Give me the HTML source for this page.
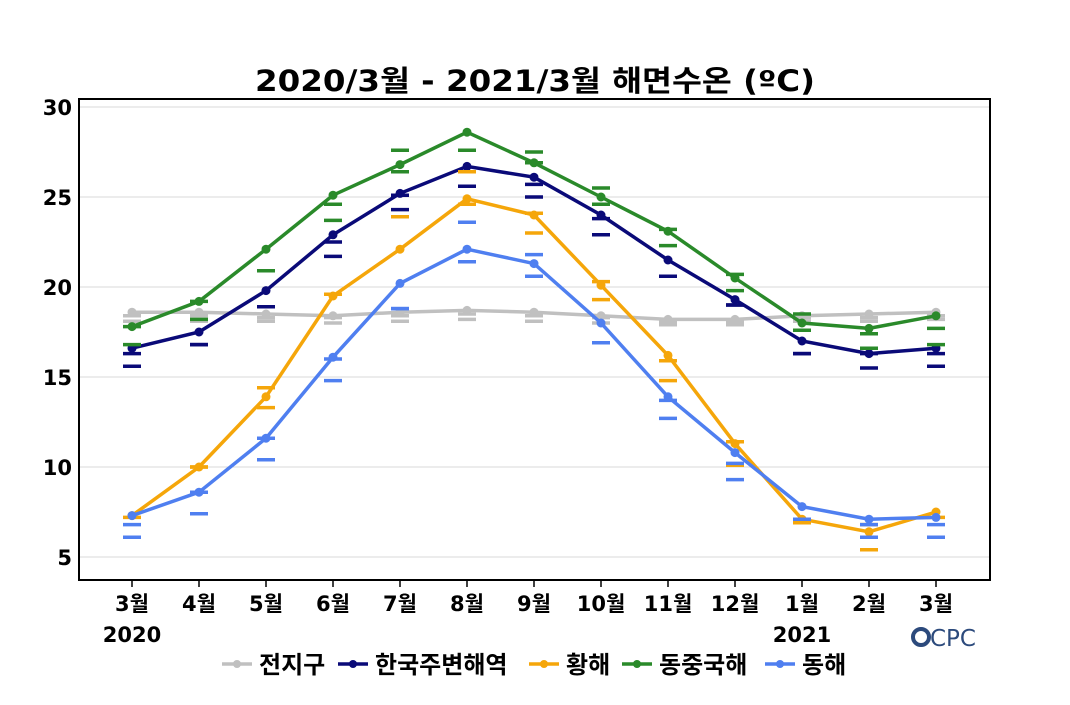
<!DOCTYPE html>
<html><head><meta charset="utf-8"><style>
body{margin:0;background:#fff;}
svg text{font-family:"DejaVu Sans","Noto Sans CJK KR",sans-serif;}
</style></head><body>
<svg id="chart" width="1070" height="700" xmlns="http://www.w3.org/2000/svg">
<rect width="1070" height="700" fill="#fff"/>
<text x="255" y="91" textLength="560" lengthAdjust="spacingAndGlyphs" font-size="29" font-weight="bold" fill="#000">2020/3월 - 2021/3월 해면수온 (ºC)</text>
<g id="grid"></g>
<g id="marks"></g>
<rect x="79" y="99" width="911" height="481" fill="none" stroke="#000" stroke-width="2"/>
<g id="axes"></g>
<text x="132" y="642" text-anchor="middle" font-size="21" font-weight="bold">2020</text>
<text x="802" y="642" text-anchor="middle" font-size="21" font-weight="bold">2021</text>
<g>
<circle cx="921" cy="637" r="8" fill="none" stroke="#2c4a7c" stroke-width="4"/>
<text x="930" y="646" font-size="23" fill="#2c4a7c">CPC</text>
</g>
<g id="legend"></g>
</svg>
<script>
const months=["3월","4월","5월","6월","7월","8월","9월","10월","11월","12월","1월","2월","3월"];
const yTicks=[5,10,15,20,25,30];
const seriesNames=["전지구","한국주변해역","황해","동중국해","동해"];
const seriesColors=["#c0c0c0","#0a0a78","#f5a60a","#2a8a2a","#4f7ff0"];
const globalVals=[18.6,18.6,18.5,18.4,18.6,18.7,18.6,18.4,18.2,18.2,18.4,18.5,18.6];
const koreaVals=[16.6,17.5,19.8,22.9,25.2,26.7,26.1,24.0,21.5,19.3,17.0,16.3,16.6];
const yellowVals=[7.3,10.0,13.9,19.5,22.1,24.9,24.0,20.1,16.2,11.3,7.1,6.4,7.5];
const ecsVals=[17.8,19.2,22.1,25.1,26.8,28.6,26.9,25.0,23.1,20.5,18.0,17.7,18.4];
const eastVals=[7.3,8.6,11.6,16.1,20.2,22.1,21.3,18.0,13.9,10.8,7.8,7.1,7.2];
const globalDashA=[18.4,18.4,18.3,18.3,18.4,18.5,18.4,18.3,18.1,18.1,18.3,18.3,18.4];
const globalDashB=[18.1,18.1,18.1,18.0,18.1,18.2,18.1,18.0,17.9,17.9,18.1,18.1,18.2];
const koreaDashA=[16.3,16.8,18.9,22.5,25.1,25.6,25.7,23.8,20.6,19.0,16.3,16.3,16.3];
const koreaDashB=[15.6,16.8,18.9,21.7,24.3,25.6,25.0,22.9,20.6,19.0,16.3,15.5,15.6];
const yellowDashA=[7.2,10.0,14.4,19.6,23.9,26.4,24.1,20.3,15.9,11.4,7.0,6.8,7.2];
const yellowDashB=[6.1,10.0,13.3,19.6,23.9,24.6,23.0,19.3,14.8,10.1,6.9,5.4,6.1];
const ecsDashA=[17.8,19.2,20.9,24.6,27.6,27.6,27.5,25.5,23.2,20.7,18.5,17.4,17.7];
const ecsDashB=[16.8,18.2,20.9,23.7,26.4,27.6,26.9,24.6,22.3,19.8,17.6,16.6,16.8];
const eastDashA=[6.8,8.6,11.6,16.0,18.8,23.6,21.8,16.9,13.7,10.2,7.1,6.8,6.8];
const eastDashB=[6.1,7.4,10.4,14.8,18.8,21.4,20.6,16.9,12.7,9.3,7.1,6.1,6.1];
const allVals=[globalVals,koreaVals,yellowVals,ecsVals,eastVals];
const allDashA=[globalDashA,koreaDashA,yellowDashA,ecsDashA,eastDashA];
const allDashB=[globalDashB,koreaDashB,yellowDashB,ecsDashB,eastDashB];
const NS="http://www.w3.org/2000/svg";
const x=i=>132+i*67;
const y=v=>557-(v-5)*18;
function mk(tag,attrs,parent){const e=document.createElementNS(NS,tag);for(const k in attrs)e.setAttribute(k,attrs[k]);parent.appendChild(e);return e;}
const grid=document.getElementById('grid'),axes=document.getElementById('axes'),marks=document.getElementById('marks'),legend=document.getElementById('legend');
yTicks.forEach(t=>{
 const l=mk('line',{x1:79,x2:990,y1:y(t),y2:y(t),stroke:'#d8d8d8','stroke-width':1},grid);
 
 
 const tx=mk('text',{x:72,y:y(t)+8,'text-anchor':'end','font-size':21,'font-weight':'bold'},axes);
 tx.textContent=t;
 
 
});
months.forEach((m,i)=>{
 const tk=mk('line',{x1:x(i),x2:x(i),y1:580,y2:587,stroke:'#000','stroke-width':1.5},axes);
 
 
 const tx=mk('text',{x:x(i),y:611,'text-anchor':'middle','font-size':21,'font-weight':'bold'},axes);
 tx.textContent=m;
 
 
});
allVals.forEach((vals,s)=>{
 const g=mk('g',{},marks);
 
 
 const c=seriesColors[s];
 [allDashA[s],allDashB[s]].forEach(arr=>arr.forEach((v,i)=>{
  const d=mk('line',{x1:x(i)-9,x2:x(i)+9,y1:y(v),y2:y(v),stroke:c,'stroke-width':3.5},g);
  
  
 }));
 const p=mk('polyline',{points:vals.map((v,i)=>x(i)+','+y(v)).join(' '),fill:'none',stroke:c,'stroke-width':3.5},g);
 
 
 vals.forEach((v,i)=>{
  const pt=mk('circle',{cx:x(i),cy:y(v),r:4.5,fill:c},g);
  
  
 });
});
const lx=[222,338,529,622,765];
seriesNames.forEach((n,s)=>{
 const g=mk('g',{},legend);
 
 
 mk('line',{x1:lx[s],x2:lx[s]+30,y1:664,y2:664,stroke:seriesColors[s],'stroke-width':3.5},g);
 mk('circle',{cx:lx[s]+15,cy:664,r:4,fill:seriesColors[s]},g);
 const t=mk('text',{x:lx[s]+37,y:673,'font-size':24,'font-weight':'bold'},g);
 t.textContent=n;
});
</script>
</body></html>
